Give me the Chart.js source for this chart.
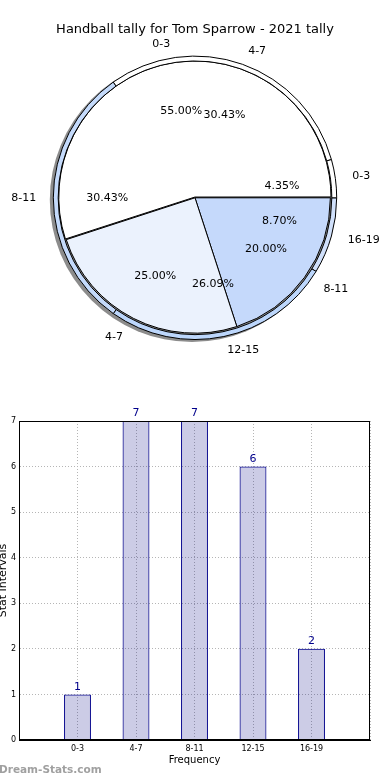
<!DOCTYPE html>
<html>
<head>
<meta charset="utf-8">
<script src="https://cdn.jsdelivr.net/npm/chart.js@4"></script>
<style>
  html, body { margin: 0; padding: 0; background: #fff; width: 390px; height: 780px; overflow: hidden; }
  #pieBox { position: absolute; left: 0; top: 0; width: 390px; height: 370px; }
  #barBox { position: absolute; left: 0; top: 370px; width: 390px; height: 410px; }
</style>
</head>
<body>
<div id="pieBox"><canvas id="pieChart"></canvas></div>
<div id="barBox"><canvas id="barChart"></canvas></div>
<script>
// data
var chartTitle = 'Handball tally for Tom Sparrow - 2021 tally';
var groupLabels = ['0-3', '4-7', '8-11'];
var groupValues = [11, 5, 4];
var intervalLabels = ['0-3', '4-7', '8-11', '12-15', '16-19'];
var intervalCounts = [1, 7, 7, 6, 2];

var groupColors = ['#ffffff', '#ebf2fd', '#c5d9fb'];
var intervalColors = ['#ffffff', '#ffffff', '#c4dafb', '#bcd6fb', '#d0e0fb'];

Chart.defaults.font.family = '"DejaVu Sans", sans-serif';
Chart.defaults.color = '#000';

// pie slices go counter clockwise from 3 o'clock, so reverse + rotate
function rev(a) { return a.slice().reverse(); }

var pieText = {
  id: 'pieText',
  beforeDatasetsDraw: function (chart) {
    var el = chart.getDatasetMeta(0).data[0];
    var ctx = chart.ctx;
    ctx.save();
    ctx.fillStyle = '#8c8c8c';
    ctx.beginPath();
    ctx.arc(el.x - 3, el.y + 2, el.outerRadius + 0.5, 0, Math.PI * 2);
    ctx.fill();
    ctx.restore();
  },
  afterDatasetsDraw: function (chart) {
    var ctx = chart.ctx;
    var R = chart.getDatasetMeta(0).data[0].outerRadius;
    ctx.save();
    ctx.font = '11px "DejaVu Sans"';
    ctx.fillStyle = '#000';
    ctx.textBaseline = 'middle';
    chart.data.datasets.forEach(function (ds, i) {
      var meta = chart.getDatasetMeta(i);
      var total = ds.data.reduce(function (a, b) { return a + b; }, 0);
      meta.data.forEach(function (el, j) {
        var mid = (el.startAngle + el.endAngle) / 2;
        var c = Math.cos(mid), s = Math.sin(mid);
        ctx.textAlign = 'center';
        ctx.fillText((ds.data[j] / total * 100).toFixed(2) + '%', el.x + c * R * 0.62, el.y + s * R * 0.62);
        ctx.textAlign = c >= 0 ? 'left' : 'right';
        ctx.fillText(ds.sliceLabels[j], el.x + c * R * 1.12, el.y + s * R * 1.1);
      });
    });
    ctx.restore();
  }
};

new Chart(document.getElementById('pieChart'), {
  type: 'pie',
  data: {
    labels: rev(intervalLabels),
    datasets: [{
      data: rev(intervalCounts),
      sliceLabels: rev(intervalLabels),
      backgroundColor: rev(intervalColors),
      borderColor: '#000',
      borderWidth: 1,
      weight: 1
    }, {
      data: rev(groupValues),
      sliceLabels: rev(groupLabels),
      backgroundColor: rev(groupColors),
      borderColor: '#000',
      borderWidth: 1,
      offset: [0, 0, 3],
      weight: 28
    }]
  },
  options: {
    responsive: true,
    maintainAspectRatio: false,
    animation: false,
    rotation: 90,
    layout: { padding: { top: 0, bottom: 30, left: 0, right: 0 } },
    plugins: {
      legend: { display: false },
      tooltip: { enabled: false },
      title: {
        display: true,
        text: chartTitle,
        color: '#000',
        font: { size: 13, weight: 'normal' },
        padding: { top: 22, bottom: 18 }
      }
    }
  },
  plugins: [pieText]
});

// bar chart: empty slot at each end like the original axis
var barLabels = [''].concat(intervalLabels, ['']);
var barValues = [null].concat(intervalCounts, [null]);

var barText = {
  id: 'barText',
  afterDatasetsDraw: function (chart) {
    var ctx = chart.ctx, a = chart.chartArea;
    ctx.save();
    ctx.strokeStyle = '#000';
    ctx.lineWidth = 1;
    ctx.strokeRect(a.left + 0.5, a.top + 0.5, a.right - a.left - 1, a.bottom - a.top - 1);
    ctx.font = '11px "DejaVu Sans"';
    ctx.fillStyle = '#00008b';
    ctx.textAlign = 'center';
    ctx.textBaseline = 'bottom';
    var vals = chart.data.datasets[0].data;
    chart.getDatasetMeta(0).data.forEach(function (bar, i) {
      if (vals[i] == null) return;
      ctx.fillText(vals[i], bar.x, bar.y - 2);
    });
    ctx.fillStyle = '#a0a0a0';
    ctx.font = 'bold 10.5px "DejaVu Sans"';
    ctx.textAlign = 'left';
    ctx.textBaseline = 'middle';
    ctx.fillText('Dream-Stats.com', -1, chart.height - 10);
    ctx.restore();
  }
};

new Chart(document.getElementById('barChart'), {
  type: 'bar',
  data: {
    labels: barLabels,
    datasets: [{
      data: barValues,
      backgroundColor: 'rgba(0, 0, 128, 0.2)',
      borderColor: '#00008b',
      borderWidth: 1,
      barPercentage: 0.46,
      categoryPercentage: 1
    }]
  },
  options: {
    responsive: true,
    maintainAspectRatio: false,
    animation: false,
    layout: { padding: { top: 51, right: 20, left: 0, bottom: 0 } },
    plugins: { legend: { display: false }, tooltip: { enabled: false } },
    scales: {
      x: {
        offset: false,
        grid: { offset: false, color: '#b5b5b5', drawTicks: false },
        border: { color: '#000', dash: [1, 2] },
        ticks: { font: { size: 8 }, padding: 4, maxRotation: 0, autoSkip: false },
        title: { display: true, text: 'Frequency', font: { size: 10 }, padding: { top: 0, bottom: 14 } },
        afterFit: function (s) { s.height = 40; }
      },
      y: {
        min: 0,
        max: 7,
        grid: { color: '#b5b5b5', drawTicks: false },
        border: { color: '#000', dash: [1, 2] },
        ticks: { stepSize: 1, font: { size: 8 }, padding: 3 },
        title: { display: true, text: 'Stat Intervals', font: { size: 11 }, padding: { top: -3, bottom: 0 } },
        afterFit: function (s) { s.width = 19; }
      }
    }
  },
  plugins: [barText]
});
</script>
</body>
</html>
